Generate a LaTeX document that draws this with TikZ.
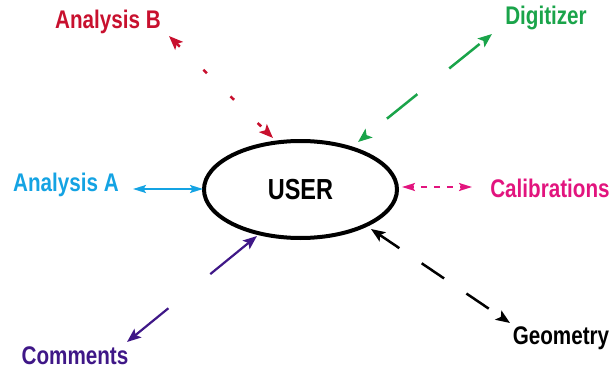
\documentclass[tikz,border=0pt]{standalone}
\usepackage{fontspec}
\setmainfont{Liberation Sans}
\usetikzlibrary{arrows.meta,shapes.geometric}

\definecolor{redB}{HTML}{C8102E}
\definecolor{greenD}{HTML}{1AA44A}
\definecolor{cyanA}{HTML}{14A3E3}
\definecolor{magC}{HTML}{E2147E}
\definecolor{purpleC}{HTML}{3F1787}

% condensed bold lettering
\newcommand\narrowtxt[1]{\scalebox{0.81}[1]{#1}}

\begin{document}
\begin{tikzpicture}[x=1pt,y=-1pt,
  lbl/.style={font=\fontsize{25.5}{28}\selectfont\bfseries, inner sep=0pt},
  link/.style={line width=2.5pt, {Stealth[length=14pt,width=11pt,inset=3pt]}-{Stealth[length=14pt,width=11pt,inset=3pt]}},
  thinlink/.style={line width=2pt, {Stealth[length=13pt,width=8pt,inset=2.5pt]}-{Stealth[length=13pt,width=8pt,inset=2.5pt]}}]
\useasboundingbox (0,0) rectangle (613,369);

% central node
\node (user) [draw, ellipse, line width=4pt, minimum width=193pt, minimum height=97pt,
  inner sep=0pt, font=\fontsize{29}{32}\selectfont\bfseries] at (300.5,189.5) {\narrowtxt{USER}};

% surrounding labels
\node (anaB) [lbl, text=redB]     at (108,22)  {\narrowtxt{Analysis B}};
\node (digi) [lbl, text=greenD]   at (546,18)  {\narrowtxt{Digitizer}};
\node (anaA) [lbl, text=cyanA]    at (66,185)  {\narrowtxt{Analysis A}};
\node (cal)  [lbl, text=magC]     at (550,188) {\narrowtxt{Calibrations}};
\node (com)  [lbl, text=purpleC]  at (75,356)  {\narrowtxt{Comments}};
\node (geo)  [lbl, text=black]    at (561,338) {\narrowtxt{Geometry}};

% connector end points
\coordinate (bU) at (273,138);  \coordinate (bL) at (169,36);
\coordinate (dU) at (358,142);  \coordinate (dL) at (492,34);
\coordinate (aU) at (203,189);  \coordinate (aL) at (133,189);
\coordinate (cU) at (402,187);  \coordinate (cL) at (472,187);
\coordinate (mU) at (257,236);  \coordinate (mL) at (127,342);
\coordinate (gU) at (371,229);  \coordinate (gL) at (510,323);

% connectors
\draw[link, redB, dash pattern=on 5pt off 33pt] (bL) -- (bU);
\draw[link, greenD, dash pattern=on 39pt off 41pt, dash phase=53pt] (dU) -- (dL);
\draw[thinlink, cyanA] (aL) -- (aU);
\draw[thinlink, magC, dash pattern=on 6pt off 7pt, dash phase=4pt] (cU) -- (cL);
\draw[link, line width=2.2pt, purpleC, dash pattern=on 50pt off 54pt on 200pt off 1pt] (mU) -- (mL);
\draw[link, black, dash pattern=on 27pt off 27pt, dash phase=3pt] (gU) -- (gL);
\end{tikzpicture}
\end{document}
